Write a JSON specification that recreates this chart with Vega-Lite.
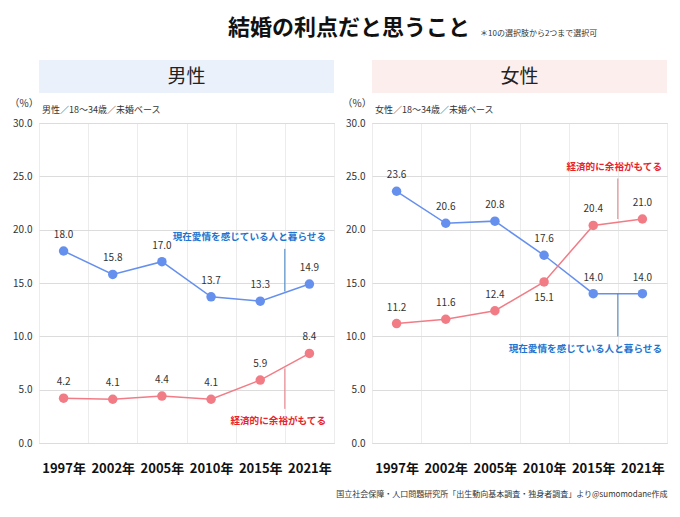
{
  "$schema": "https://vega.github.io/schema/vega-lite/v6.json",
  "padding": {"top": 16, "left": 8, "right": 10, "bottom": 4},
  "background": "white",
  "datasets": {
    "rates": [
      {"sex": "男性", "year": "1997年", "series": "現在愛情を感じている人と暮らせる", "value": 18.0},
      {"sex": "男性", "year": "2002年", "series": "現在愛情を感じている人と暮らせる", "value": 15.8},
      {"sex": "男性", "year": "2005年", "series": "現在愛情を感じている人と暮らせる", "value": 17.0},
      {"sex": "男性", "year": "2010年", "series": "現在愛情を感じている人と暮らせる", "value": 13.7},
      {"sex": "男性", "year": "2015年", "series": "現在愛情を感じている人と暮らせる", "value": 13.3},
      {"sex": "男性", "year": "2021年", "series": "現在愛情を感じている人と暮らせる", "value": 14.9},
      {"sex": "男性", "year": "1997年", "series": "経済的に余裕がもてる", "value": 4.2},
      {"sex": "男性", "year": "2002年", "series": "経済的に余裕がもてる", "value": 4.1},
      {"sex": "男性", "year": "2005年", "series": "経済的に余裕がもてる", "value": 4.4},
      {"sex": "男性", "year": "2010年", "series": "経済的に余裕がもてる", "value": 4.1},
      {"sex": "男性", "year": "2015年", "series": "経済的に余裕がもてる", "value": 5.9},
      {"sex": "男性", "year": "2021年", "series": "経済的に余裕がもてる", "value": 8.4},
      {"sex": "女性", "year": "1997年", "series": "現在愛情を感じている人と暮らせる", "value": 23.6},
      {"sex": "女性", "year": "2002年", "series": "現在愛情を感じている人と暮らせる", "value": 20.6},
      {"sex": "女性", "year": "2005年", "series": "現在愛情を感じている人と暮らせる", "value": 20.8},
      {"sex": "女性", "year": "2010年", "series": "現在愛情を感じている人と暮らせる", "value": 17.6},
      {"sex": "女性", "year": "2015年", "series": "現在愛情を感じている人と暮らせる", "value": 14.0},
      {"sex": "女性", "year": "2021年", "series": "現在愛情を感じている人と暮らせる", "value": 14.0},
      {"sex": "女性", "year": "1997年", "series": "経済的に余裕がもてる", "value": 11.2},
      {"sex": "女性", "year": "2002年", "series": "経済的に余裕がもてる", "value": 11.6},
      {"sex": "女性", "year": "2005年", "series": "経済的に余裕がもてる", "value": 12.4},
      {"sex": "女性", "year": "2010年", "series": "経済的に余裕がもてる", "value": 15.1},
      {"sex": "女性", "year": "2015年", "series": "経済的に余裕がもてる", "value": 20.4},
      {"sex": "女性", "year": "2021年", "series": "経済的に余裕がもてる", "value": 21.0}
    ],
    "notes": [
      {"sex": "男性", "year": "2021年", "series": "現在愛情を感じている人と暮らせる", "textAt": 19.3, "from": 18.2, "to": 14.2},
      {"sex": "男性", "year": "2021年", "series": "経済的に余裕がもてる", "textAt": 2.1, "from": 7.0, "to": 3.2},
      {"sex": "女性", "year": "2021年", "series": "現在愛情を感じている人と暮らせる", "textAt": 8.8, "from": 14.0, "to": 10.0},
      {"sex": "女性", "year": "2021年", "series": "経済的に余裕がもてる", "textAt": 25.9, "from": 24.8, "to": 21.0}
    ]
  },
  "spacing": 20,
  "vconcat": [
    {
      "width": 600,
      "height": 24,
      "view": {"stroke": null},
      "data": {"values": [{"main": "結婚の利点だと思うこと", "note": "＊10の選択肢から2つまで選択可"}]},
      "layer": [
        {
          "mark": {"type": "text", "fontSize": 22, "fontWeight": "bold", "color": "#111", "dx": 10},
          "encoding": {"text": {"field": "main"}}
        },
        {
          "mark": {"type": "text", "fontSize": 8, "color": "#333", "align": "left", "dx": 141, "dy": 6},
          "encoding": {"text": {"field": "note"}}
        }
      ]
    },
    {
      "spacing": 0,
      "hconcat": [
        {
          "spacing": 4,
          "vconcat": [
            {
              "width": 295,
              "height": 33,
              "view": {"fill": "#eaf1fb", "stroke": null},
              "data": {"values": [{"label": "男性"}]},
              "mark": {"type": "text", "fontSize": 19, "color": "#222"},
              "encoding": {"text": {"field": "label"}}
            },
            {
              "width": 295,
              "height": 320,
              "title": {"text": "男性／18～34歳／未婚ベース", "anchor": "start", "frame": "group", "dx": 3, "fontSize": 9, "fontWeight": "normal", "color": "#333", "offset": -17},
              "encoding": {
                "x": {
                  "field": "year", "type": "ordinal",
                  "scale": {"type": "band", "paddingInner": 0, "paddingOuter": 0},
                  "axis": {"title": null}
                }
              },
              "layer": [
                {
                  "data": {"name": "rates"},
                  "transform": [{"filter": "datum.sex === '男性'"}],
                  "layer": [
                    {
                      "mark": {"type": "line", "strokeWidth": 1.5},
                      "encoding": {
                        "y": {"field": "value", "type": "quantitative", "scale": {"domain": [0, 30]},
                          "axis": {"title": "（%）", "values": [0, 5, 10, 15, 20, 25, 30], "format": ".1f",
                            "titleAngle": 0, "titleAlign": "left", "titleBaseline": "middle", "titleX": -30, "titleY": -20,
                            "titleFontSize": 10, "titleFontWeight": "normal", "titleColor": "#333"}},
                        "color": {"field": "series", "legend": null}
                      }
                    },
                    {
                      "mark": {"type": "circle", "size": 90, "opacity": 1},
                      "encoding": {
                        "y": {"field": "value", "type": "quantitative"},
                        "color": {"field": "series", "legend": null}
                      }
                    },
                    {
                      "mark": {"type": "text", "dy": -16, "fontSize": 10, "color": "#333"},
                      "encoding": {
                        "y": {"field": "value", "type": "quantitative"},
                        "text": {"field": "value", "format": ".1f"}
                      }
                    }
                  ]
                },
                {
                  "data": {"name": "notes"},
                  "transform": [{"filter": "datum.sex === '男性'"}],
                  "layer": [
                    {
                      "mark": {"type": "rule", "strokeWidth": 1},
                      "encoding": {
                        "x": {"field": "year", "type": "ordinal", "bandPosition": 0},
                        "y": {"field": "from", "type": "quantitative"},
                        "y2": {"field": "to"},
                        "color": {"condition": {"test": "datum.series === '経済的に余裕がもてる'", "value": "#e57b84"}, "value": "#3f7fc0"}
                      }
                    },
                    {
                      "mark": {"type": "text", "align": "right", "baseline": "middle", "dx": -8, "fontSize": 9.6, "fontWeight": "bold"},
                      "encoding": {
                        "x": {"field": "year", "type": "ordinal", "bandPosition": 1},
                        "y": {"field": "textAt", "type": "quantitative"},
                        "text": {"field": "series"},
                        "color": {"condition": {"test": "datum.series === '経済的に余裕がもてる'", "value": "#e8232b"}, "value": "#1f74cf"}
                      }
                    }
                  ]
                }
              ]
            }
          ]
        },
        {
          "spacing": 4,
          "vconcat": [
            {
              "width": 295,
              "height": 33,
              "view": {"fill": "#fdeeee", "stroke": null},
              "data": {"values": [{"label": "女性"}]},
              "mark": {"type": "text", "fontSize": 19, "color": "#222"},
              "encoding": {"text": {"field": "label"}}
            },
            {
              "width": 295,
              "height": 320,
              "title": {"text": "女性／18～34歳／未婚ベース", "anchor": "start", "frame": "group", "dx": 3, "fontSize": 9, "fontWeight": "normal", "color": "#333", "offset": -17},
              "encoding": {
                "x": {
                  "field": "year", "type": "ordinal",
                  "scale": {"type": "band", "paddingInner": 0, "paddingOuter": 0},
                  "axis": {"title": "国立社会保障・人口問題研究所「出生動向基本調査・独身者調査」より@sumomodane作成",
                    "titleAnchor": "end", "titleFontSize": 8, "titleFontWeight": "normal", "titleColor": "#333", "titlePadding": 15}
                }
              },
              "layer": [
                {
                  "data": {"name": "rates"},
                  "transform": [{"filter": "datum.sex === '女性'"}],
                  "layer": [
                    {
                      "mark": {"type": "line", "strokeWidth": 1.5},
                      "encoding": {
                        "y": {"field": "value", "type": "quantitative", "scale": {"domain": [0, 30]},
                          "axis": {"title": "（%）", "values": [0, 5, 10, 15, 20, 25, 30], "format": ".1f",
                            "titleAngle": 0, "titleAlign": "left", "titleBaseline": "middle", "titleX": -30, "titleY": -20,
                            "titleFontSize": 10, "titleFontWeight": "normal", "titleColor": "#333"}},
                        "color": {"field": "series", "legend": null}
                      }
                    },
                    {
                      "mark": {"type": "circle", "size": 90, "opacity": 1},
                      "encoding": {
                        "y": {"field": "value", "type": "quantitative"},
                        "color": {"field": "series", "legend": null}
                      }
                    },
                    {
                      "transform": [{"filter": "!(datum.year === '2010年' && datum.series === '経済的に余裕がもてる')"}],
                      "mark": {"type": "text", "dy": -16, "fontSize": 10, "color": "#333"},
                      "encoding": {
                        "y": {"field": "value", "type": "quantitative"},
                        "text": {"field": "value", "format": ".1f"}
                      }
                    },
                    {
                      "transform": [{"filter": "datum.year === '2010年' && datum.series === '経済的に余裕がもてる'"}],
                      "mark": {"type": "text", "dy": 16, "fontSize": 10, "color": "#333"},
                      "encoding": {
                        "y": {"field": "value", "type": "quantitative"},
                        "text": {"field": "value", "format": ".1f"}
                      }
                    }
                  ]
                },
                {
                  "data": {"name": "notes"},
                  "transform": [{"filter": "datum.sex === '女性'"}],
                  "layer": [
                    {
                      "mark": {"type": "rule", "strokeWidth": 1},
                      "encoding": {
                        "x": {"field": "year", "type": "ordinal", "bandPosition": 0},
                        "y": {"field": "from", "type": "quantitative"},
                        "y2": {"field": "to"},
                        "color": {"condition": {"test": "datum.series === '経済的に余裕がもてる'", "value": "#e57b84"}, "value": "#3f7fc0"}
                      }
                    },
                    {
                      "mark": {"type": "text", "align": "right", "baseline": "middle", "dx": -5, "fontSize": 9.6, "fontWeight": "bold"},
                      "encoding": {
                        "x": {"field": "year", "type": "ordinal", "bandPosition": 1},
                        "y": {"field": "textAt", "type": "quantitative"},
                        "text": {"field": "series"},
                        "color": {"condition": {"test": "datum.series === '経済的に余裕がもてる'", "value": "#e8232b"}, "value": "#1f74cf"}
                      }
                    }
                  ]
                }
              ]
            }
          ]
        }
      ]
    }
  ],
  "resolve": {"scale": {"color": "shared"}},
  "config": {
    "font": "Noto Sans CJK JP",
    "view": {"stroke": "#cfcfcf"},
    "range": {"category": ["#6690ee", "#f27c86"]},
    "axisX": {
      "domain": false, "ticks": false, "grid": true, "gridColor": "#ececec", "tickBand": "extent",
      "labelAngle": 0, "labelFontSize": 13, "labelFontWeight": "bold", "labelColor": "#111", "labelPadding": 19
    },
    "axisY": {
      "domain": false, "ticks": false, "grid": true, "gridColor": "#dcdcdc",
      "labelFontSize": 10, "labelColor": "#333", "labelPadding": 7
    }
  }
}
